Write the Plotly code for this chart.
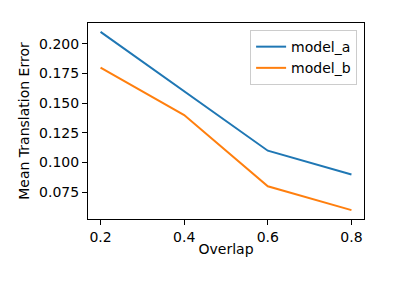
import plotly.graph_objects as go

overlap = [0.2, 0.4, 0.6, 0.8]
model_a = [0.21, 0.16, 0.11, 0.09]
model_b = [0.18, 0.14, 0.08, 0.06]
x_ticks = [0.2, 0.4, 0.6, 0.8]
y_ticks = [0.075, 0.100, 0.125, 0.150, 0.175, 0.200]

font = dict(family="DejaVu Sans", size=14, color="black")

fig = go.Figure()
fig.add_trace(go.Scatter(x=overlap, y=model_a, mode="lines", name="model_a",
                         line=dict(color="#1f77b4", width=2)))
fig.add_trace(go.Scatter(x=overlap, y=model_b, mode="lines", name="model_b",
                         line=dict(color="#ff7f0e", width=2)))

axis_common = dict(showline=True, linecolor="black", linewidth=1, mirror=True,
                   showgrid=False, zeroline=False, ticks="outside", ticklen=5,
                   tickwidth=1, tickcolor="black", tickfont=font, automargin=False)

# page body has an 8px margin, so the figure is offset by 8px
fig.update_layout(
    width=406, height=274,
    margin=dict(l=80, r=50, t=15, b=63),
    paper_bgcolor="white", plot_bgcolor="white",
    font=font,
    showlegend=True,
    legend=dict(x=0.975, y=0.964, xanchor="right", yanchor="top",
                bordercolor="#cccccc", borderwidth=1, bgcolor="rgba(255,255,255,0.8)",
                font=font, tracegroupgap=0, itemwidth=30),
    xaxis=dict(range=[0.17, 0.83], tickvals=x_ticks, tickformat=".1f",
               title=dict(text="Overlap", font=font, standoff=0), **axis_common),
    yaxis=dict(range=[0.0525, 0.2175], tickvals=y_ticks, tickformat=".3f",
               title=dict(text="Mean Translation Error", font=font, standoff=6), **axis_common),
)

fig.write_html("out.html")
